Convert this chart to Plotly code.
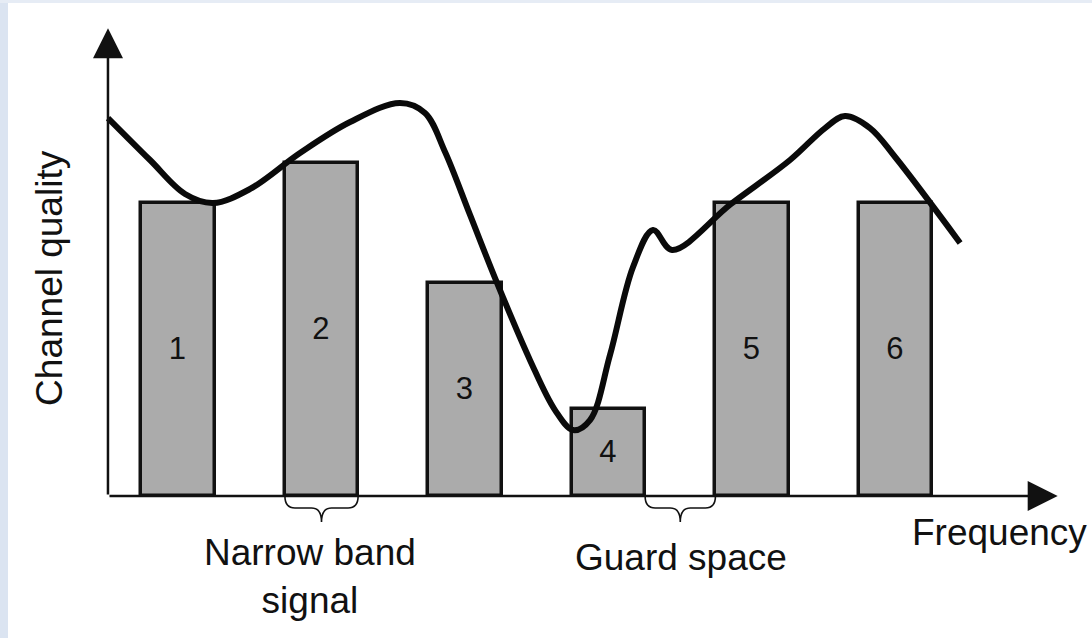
import plotly.graph_objects as go

# ---- data ----
bar_labels = ["1", "2", "3", "4", "5", "6"]
bar_freq = [1, 2, 3, 4, 5, 6]
bar_quality = [8.8, 10.0, 6.4, 2.6, 8.8, 8.8]

curve_freq = [0.512, 0.805, 1.049, 1.244, 1.502, 1.850, 2.199, 2.547, 2.721, 2.861,
              3.035, 3.223, 3.453, 3.627, 3.753, 3.871, 4.010, 4.171, 4.310, 4.443,
              4.854, 5.265, 5.509, 5.648, 5.822, 5.997, 6.450]
curve_quality = [11.35, 10.09, 9.07, 8.80, 9.22, 10.30, 11.23, 11.80, 11.50, 10.33,
                 8.44, 6.40, 4.08, 2.58, 1.98, 2.28, 4.23, 6.88, 7.99, 7.39,
                 8.77, 10.09, 11.05, 11.41, 11.05, 10.18, 7.60]

x_axis_label = "Frequency"
y_axis_label = "Channel quality"
narrow_label = "Narrow band<br>signal"
guard_label = "Guard space"

# ---- layout constants ----
BAR_W = 0.51
FONT = "Liberation Sans, Arial, Helvetica, sans-serif"
X_RANGE = [-0.2404, 7.369]
Y_RANGE = [-4.264, 14.895]
AXIS_X0 = 0.512
X_TIP = 7.13
Y_TIP = 14.05
INK = "#111111"

fig = go.Figure()

fig.add_trace(go.Bar(
    x=bar_freq, y=bar_quality, width=BAR_W,
    marker=dict(color="#ababab", line=dict(color=INK, width=3.5)),
    text=bar_labels, textposition="inside", insidetextanchor="middle",
    textfont=dict(family=FONT, size=31, color=INK),
    hoverinfo="skip", showlegend=False,
))

fig.add_trace(go.Scatter(
    x=curve_freq, y=curve_quality, mode="lines",
    line=dict(color="#0a0a0a", width=6, shape="spline", smoothing=1.0),
    hoverinfo="skip", showlegend=False,
))

shapes = []
# light slide-background strips
shapes.append(dict(type="rect", xref="paper", yref="paper", x0=0, x1=8 / 1092, y0=0, y1=1,
                   fillcolor="#dbe4f1", line=dict(width=0), layer="below"))
shapes.append(dict(type="rect", xref="paper", yref="paper", x0=0, x1=1, y0=1 - 3 / 638, y1=1,
                   fillcolor="#e6ecf5", line=dict(width=0), layer="below"))


def brace(x0, x1):
    cx = (x0 + x1) / 2
    d = 0.07
    ym = -0.36
    yt = -0.78
    path = (f"M {x0},0 Q {x0},{ym} {x0 + d},{ym} L {cx - d},{ym} "
            f"Q {cx},{ym} {cx},{yt} Q {cx},{ym} {cx + d},{ym} "
            f"L {x1 - d},{ym} Q {x1},{ym} {x1},0")
    return dict(type="path", xref="x", yref="y", path=path,
                line=dict(color=INK, width=1.6))


# brace under narrow band signal (bar 2)
shapes.append(brace(bar_freq[1] - BAR_W / 2, bar_freq[1] + BAR_W / 2))
# brace for guard space (between bar 4 and bar 5)
shapes.append(brace(bar_freq[3] + BAR_W / 2, bar_freq[4] - BAR_W / 2))

annotations = [
    # axes with arrowheads
    dict(x=X_TIP, y=0, ax=AXIS_X0, ay=0, xref="x", yref="y", axref="x", ayref="y",
         text="", showarrow=True, arrowhead=2, arrowsize=2.4, arrowwidth=2.5,
         arrowcolor=INK, standoff=0, startstandoff=0),
    dict(x=AXIS_X0, y=Y_TIP, ax=AXIS_X0, ay=0, xref="x", yref="y", axref="x", ayref="y",
         text="", showarrow=True, arrowhead=2, arrowsize=2.4, arrowwidth=2.5,
         arrowcolor=INK, standoff=0, startstandoff=0),
    dict(x=6.721, y=-1.10, xref="x", yref="y", text=x_axis_label, showarrow=False,
         xanchor="center", yanchor="middle",
         font=dict(family=FONT, size=37, color=INK)),
    dict(x=0.108, y=6.55, xref="x", yref="y", text=y_axis_label, showarrow=False,
         textangle=-90, xanchor="center", yanchor="middle",
         font=dict(family=FONT, size=37, color=INK)),
    dict(x=1.92, y=-2.42, xref="x", yref="y", text=narrow_label, showarrow=False,
         xanchor="center", yanchor="middle",
         font=dict(family=FONT, size=37, color=INK)),
    dict(x=4.505, y=-1.86, xref="x", yref="y", text=guard_label, showarrow=False,
         xanchor="center", yanchor="middle",
         font=dict(family=FONT, size=37, color=INK)),
]

fig.update_layout(
    width=1092, height=638,
    margin=dict(l=0, r=0, t=0, b=0),
    paper_bgcolor="white", plot_bgcolor="white",
    xaxis=dict(range=X_RANGE, visible=False, fixedrange=True),
    yaxis=dict(range=Y_RANGE, visible=False, fixedrange=True),
    shapes=shapes, annotations=annotations,
    bargap=0,
)

fig.write_html(
    "out.html",
    config={"displayModeBar": False},
    post_script="document.body.style.margin='0';document.body.style.overflow='hidden';",
)
